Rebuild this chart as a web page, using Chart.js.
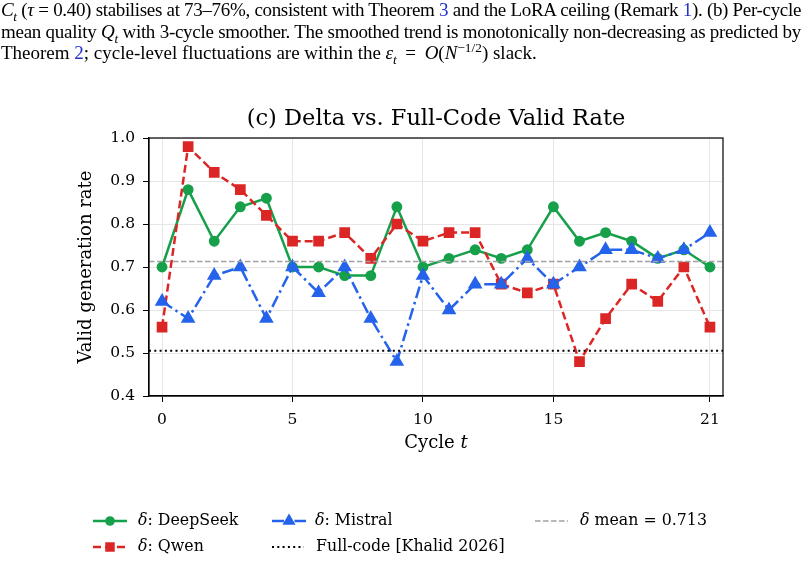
<!DOCTYPE html>
<html>
<head>
<meta charset="utf-8">
<script src="https://cdn.jsdelivr.net/npm/chart.js@4.4.0/dist/chart.umd.min.js"></script>
<style>
  body { margin: 0; background: #fff; }
  #wrap { position: relative; width: 804px; height: 562px; overflow: hidden; }
  #caption {
    position: absolute; left: 1px; top: -1px; width: 800px; z-index: 2;
    font-family: 'Liberation Serif', serif; font-size: 19px; line-height: 21.5px; color: #000;
  }
  #caption .ln { text-align: justify; text-align-last: justify; white-space: nowrap; }
  #caption .last { text-align: left; text-align-last: left; }
  #caption sub, #caption sup { font-size: 0.7em; line-height: 0; }
  #caption .ref { color: #2330d0; }
  #caption .op { padding: 0 0.2em; }
  canvas { position: absolute; left: 0; top: 0; }
</style>
</head>
<body>
<div id="wrap">
  <div id="caption">
    <div class="ln"><i>C<sub>t</sub></i> (<i>τ</i> = 0.40) stabilises at 73–76%, consistent with Theorem <span class="ref">3</span> and the LoRA ceiling (Remark <span class="ref">1</span>). (b) Per-cycle</div>
    <div class="ln">mean quality <i>Q<sub>t</sub></i> with 3-cycle smoother. The smoothed trend is monotonically non-decreasing as predicted by</div>
    <div class="ln last">Theorem <span class="ref">2</span>; cycle-level fluctuations are within the <i>ε<sub>t</sub></i> <span class="op">=</span> <i>O</i>(<i>N</i><sup>−1/2</sup>) slack.</div>
  </div>
  <canvas id="myChart" width="804" height="562"></canvas>
</div>
<script>
var cycles = [0, 1, 2, 3, 4, 5, 6, 7, 8, 9, 10, 11, 12, 13, 14, 15, 16, 17, 18, 19, 20, 21];
var deepseek = [0.70, 0.88, 0.76, 0.84, 0.86, 0.70, 0.70, 0.68, 0.68, 0.84, 0.70, 0.72, 0.74, 0.72, 0.74, 0.84, 0.76, 0.78, 0.76, 0.72, 0.74, 0.70];
var qwen = [0.56, 0.98, 0.92, 0.88, 0.82, 0.76, 0.76, 0.78, 0.72, 0.80, 0.76, 0.78, 0.78, 0.66, 0.64, 0.66, 0.48, 0.58, 0.66, 0.62, 0.70, 0.56];
var mistral = [0.62, 0.58, 0.68, 0.70, 0.58, 0.70, 0.64, 0.70, 0.58, 0.48, 0.68, 0.60, 0.66, 0.66, 0.72, 0.66, 0.70, 0.74, 0.74, 0.72, 0.74, 0.78];
var deltaMean = 0.713;
var fullCode = 0.505;
var xTicks = [0, 5, 10, 15, 21];
var xRange = [-0.5, 21.5];
var yRange = [0.4, 1.0];

var GREEN = '#16a04a';
var RED = '#dc2626';
var BLUE = '#2563eb';
var SERIF = "'DejaVu Serif', serif";

// squeeze caption lines that are too long for the column
document.querySelectorAll('#caption .ln').forEach(function (el) {
    el.style.display = 'inline-block';
    var w = el.getBoundingClientRect().width;
    el.style.display = '';
    if (w > 798) {
        var n = el.textContent.length;
        el.style.letterSpacing = ((798 - w) / n) + 'px';
    }
});

function toPoints(values) {
    return cycles.map(function (c, i) { return { x: c, y: values[i] }; });
}
function hline(v) {
    return xRange.map(function (x) { return { x: x, y: v }; });
}

var datasets = [
    { label: 'DeepSeek', data: toPoints(deepseek), borderColor: GREEN, backgroundColor: GREEN,
      borderWidth: 2.5, pointStyle: 'circle', pointRadius: 4.2, order: 3 },
    { label: 'Qwen', data: toPoints(qwen), borderColor: RED, backgroundColor: RED,
      borderWidth: 2.5, borderDash: [8, 4], pointStyle: 'rect', pointRadius: 5.8, order: 2 },
    { label: 'Mistral', data: toPoints(mistral), borderColor: BLUE, backgroundColor: BLUE,
      borderWidth: 2.5, borderDash: [12, 4, 2.5, 4], pointStyle: 'triangle', pointRadius: 6, order: 1 },
    { label: 'Full-code [Khalid 2026]', data: hline(fullCode), borderColor: '#000',
      borderWidth: 2, borderDash: [2, 3.3], pointRadius: 0, order: 0 },
    { label: 'mean', data: hline(deltaMean), borderColor: '#a0a0a0',
      borderWidth: 1.5, borderDash: [5.5, 2.5], pointRadius: 0, order: 0 }
];

var LEGEND_FONT = 15.8;

function mathLabel(ctx, x, y, rest) {
    ctx.font = 'italic ' + LEGEND_FONT + 'px ' + SERIF;
    ctx.fillText('δ', x, y);
    var w = ctx.measureText('δ').width;
    ctx.font = LEGEND_FONT + 'px ' + SERIF;
    ctx.fillText(rest, x + w, y);
}

function legendHandle(ctx, ds, x1, x2, y) {
    ctx.save();
    ctx.strokeStyle = ds.borderColor;
    ctx.lineWidth = ds.borderWidth;
    ctx.setLineDash(ds.borderDash || []);
    ctx.beginPath();
    ctx.moveTo(x1, y);
    ctx.lineTo(x2, y);
    ctx.stroke();
    ctx.setLineDash([]);
    if (ds.pointRadius > 0) {
        Chart.helpers.drawPoint(ctx, {
            pointStyle: ds.pointStyle, radius: ds.pointRadius * 0.85,
            borderWidth: 1, rotation: 0
        }, (x1 + x2) / 2, y);
        ctx.fillStyle = ds.backgroundColor;
        ctx.fill();
    }
    ctx.restore();
}

var extras = {
    id: 'extras',
    afterDraw: function (chart) {
        var ctx = chart.ctx;
        var a = chart.chartArea;
        var cx = (a.left + a.right) / 2;
        ctx.save();
        ctx.strokeStyle = '#000';
        ctx.lineWidth = 1.2;
        ctx.strokeRect(a.left, a.top, a.right - a.left, a.bottom - a.top);

        ctx.fillStyle = '#000';
        ctx.textBaseline = 'middle';

        // title, centred on the plot area
        ctx.textAlign = 'center';
        ctx.font = '22.5px ' + SERIF;
        ctx.fillText('(c) Delta vs. Full-Code Valid Rate', cx, 119);
        ctx.textAlign = 'left';

        // x axis title with italic t
        ctx.font = '18px ' + SERIF;
        var w1 = ctx.measureText('Cycle ').width;
        ctx.font = 'italic 18px ' + SERIF;
        var w2 = ctx.measureText('t').width;
        var sx = cx - (w1 + w2) / 2;
        ctx.font = '18px ' + SERIF;
        ctx.fillText('Cycle ', sx, 443);
        ctx.font = 'italic 18px ' + SERIF;
        ctx.fillText('t', sx + w1, 443);

        // legend
        var ds = chart.data.datasets;
        legendHandle(ctx, ds[0], 93, 127, 521);
        mathLabel(ctx, 138, 521, ': DeepSeek');
        legendHandle(ctx, ds[1], 93, 127, 547);
        mathLabel(ctx, 138, 547, ': Qwen');
        legendHandle(ctx, ds[2], 272, 306, 521);
        mathLabel(ctx, 315, 521, ': Mistral');
        legendHandle(ctx, ds[3], 272, 304, 547);
        ctx.fillStyle = '#000';
        ctx.font = LEGEND_FONT + 'px ' + SERIF;
        ctx.fillText(ds[3].label, 316, 547);
        legendHandle(ctx, ds[4], 535, 568, 521);
        ctx.fillStyle = '#000';
        mathLabel(ctx, 580, 521, ' mean = ' + deltaMean.toFixed(3));
        ctx.restore();
    }
};

var ctx = document.getElementById('myChart').getContext('2d');
var myChart = new Chart(ctx, {
    type: 'line',
    data: { datasets: datasets },
    plugins: [extras],
    options: {
        responsive: false,
        animation: false,
        devicePixelRatio: 1,
        layout: { padding: { top: 138, left: 76, right: 81, bottom: 136 } },
        plugins: {
            legend: { display: false },
            tooltip: { enabled: false },
            title: { display: false }
        },
        scales: {
            x: {
                type: 'linear',
                min: xRange[0],
                max: xRange[1],
                afterBuildTicks: function (scale) {
                    scale.ticks = xTicks.map(function (v) { return { value: v }; });
                },
                afterFit: function (scale) { scale.height = 30; },
                ticks: {
                    color: '#000', padding: 9, maxRotation: 0,
                    font: { family: SERIF, size: 15.5 },
                    callback: function (v) { return String(v); }
                },
                grid: { color: '#e6e6e6', lineWidth: 1, tickColor: '#000', tickLength: 6 },
                border: { color: '#000', width: 1.2 }
            },
            y: {
                min: yRange[0],
                max: yRange[1],
                afterFit: function (scale) { scale.width = 73; },
                ticks: {
                    stepSize: 0.1, color: '#000', padding: 8,
                    font: { family: SERIF, size: 15.5 },
                    callback: function (v) { return v.toFixed(1); }
                },
                grid: { color: '#e6e6e6', lineWidth: 1, tickColor: '#000', tickLength: 6 },
                border: { color: '#000', width: 1.2 },
                title: {
                    display: true, text: 'Valid generation rate', color: '#000',
                    font: { family: SERIF, size: 18 }, padding: { top: 0, bottom: 0 }
                }
            }
        }
    }
});
</script>
</body>
</html>
